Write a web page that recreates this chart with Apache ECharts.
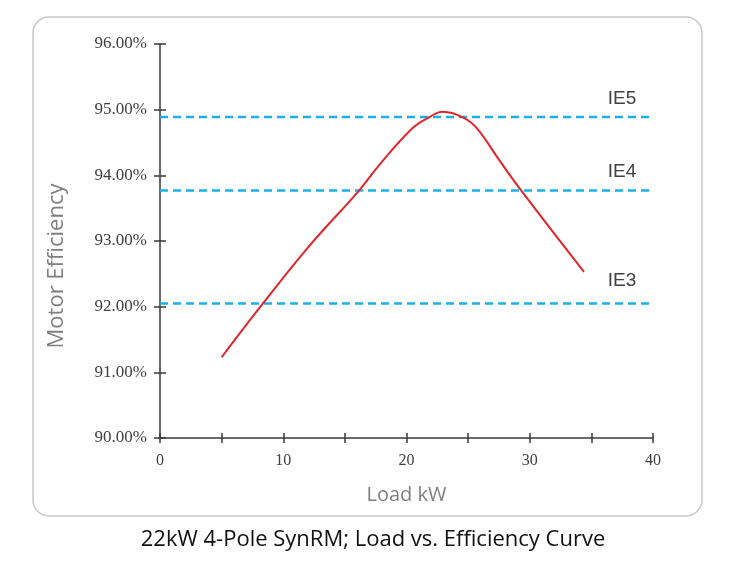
<!DOCTYPE html>
<html>
<head>
<meta charset="utf-8">
<script src="https://cdn.jsdelivr.net/npm/echarts@6/dist/echarts.min.js"></script>
<style>
  html, body { margin: 0; padding: 0; background: #fff; }
  #chart { width: 734px; height: 579px; }
</style>
</head>
<body>
<div id="chart"></div>
<script>
// load (kW) vs efficiency (%)
const loadKw = [5, 8.4, 12, 16.2, 17.8, 20.5, 21.9, 22.9, 24.6, 25.7, 27.5, 29.3, 34.4];
const efficiency = [91.23, 92.06, 92.9, 93.78, 94.16, 94.72, 94.89, 94.97, 94.88, 94.72, 94.24, 93.77, 92.53];

// IE class reference levels
const ieNames = ['IE5', 'IE4', 'IE3'];
const ieLevels = [94.89, 93.77, 92.05];

const xTicks = [0, 5, 10, 15, 20, 25, 30, 35, 40];
const yTicks = [90, 91, 92, 93, 94, 95, 96];

const axisColor = '#3a3a3a';
const serif = '"Liberation Serif", "DejaVu Serif", serif';
const sans = '"Open Sans", "Noto Sans", sans-serif';

let chart = echarts.init(document.getElementById('chart'));

let curveData = loadKw.map((x, i) => [x, efficiency[i]]);
let labelGaps = [9, 9, 13];

let ieSeries = ieLevels.map((lvl, i) => ({
    type: 'line',
    name: ieNames[i],
    data: [
        [xTicks[0], lvl],
        {
            value: [xTicks[xTicks.length - 1], lvl],
            label: {
                show: true,
                formatter: ieNames[i],
                position: 'top',
                distance: labelGaps[i],
                offset: [-31, 0],
                color: '#404040',
                fontSize: 19,
                fontFamily: '"Liberation Sans", Arial, sans-serif'
            }
        }
    ],
    symbol: 'circle',
    symbolSize: 0,
    lineStyle: {color: '#1db0e6', width: 2.5, type: [8, 5]},
    silent: true,
    z: 2
}));

let option = {
    animation: false,
    backgroundColor: '#fff',
    grid: {left: 160, right: 81, top: 44, bottom: 141, containLabel: false},
    xAxis: [
        {
            type: 'value',
            min: xTicks[0], max: xTicks[xTicks.length - 1], interval: 5,
            name: 'Load kW',
            nameLocation: 'middle',
            nameGap: 47,
            nameTextStyle: {color: '#7f7f7f', fontSize: 20, fontFamily: sans},
            axisLine: {show: true, onZero: false, lineStyle: {color: axisColor, width: 1.5}},
            axisTick: {show: true, length: 5, lineStyle: {color: axisColor, width: 1.5}},
            axisLabel: {
                margin: 15,
                color: '#404040',
                fontSize: 16,
                fontFamily: serif,
                formatter: v => (v % 10 === 0 ? String(v) : '')
            },
            splitLine: {show: false}
        },
        {
            // second copy only for the inner half of the ticks
            type: 'value',
            position: 'bottom',
            min: xTicks[0], max: xTicks[xTicks.length - 1], interval: 5,
            axisLine: {show: false},
            axisTick: {show: true, inside: true, length: 5, lineStyle: {color: axisColor, width: 1.5}},
            axisLabel: {show: false},
            splitLine: {show: false}
        }
    ],
    yAxis: [
        {
            type: 'value',
            min: yTicks[0], max: yTicks[yTicks.length - 1], interval: 1,
            axisLine: {show: true, lineStyle: {color: axisColor, width: 1.5}},
            axisTick: {show: true, length: 6, lineStyle: {color: axisColor, width: 1.5}},
            axisLabel: {
                margin: 13,
                color: '#404040',
                fontSize: 17,
                fontFamily: serif,
                formatter: v => v.toFixed(2) + '%'
            },
            splitLine: {show: false}
        },
        {
            type: 'value',
            position: 'left',
            offset: 0,
            min: yTicks[0], max: yTicks[yTicks.length - 1], interval: 1,
            axisLine: {show: false},
            axisTick: {show: true, inside: true, length: 6, lineStyle: {color: axisColor, width: 1.5}},
            axisLabel: {show: false},
            splitLine: {show: false}
        }
    ],
    graphic: [
        {
            type: 'rect',
            shape: {x: 33, y: 17, width: 669, height: 499, r: 16},
            style: {fill: 'none', stroke: '#c8c8c8', lineWidth: 1.5},
            z: -10
        },
        {
            type: 'text',
            x: 57, y: 266,
            rotation: Math.PI / 2,
            style: {
                text: 'Motor Efficiency',
                fill: '#7f7f7f',
                fontSize: 22,
                fontFamily: sans,
                align: 'center',
                verticalAlign: 'middle'
            }
        },
        {
            type: 'text',
            x: 373, y: 540,
            style: {
                text: '22kW 4-Pole SynRM; Load vs. Efficiency Curve',
                fill: '#111',
                fontSize: 22,
                fontFamily: sans,
                align: 'center',
                verticalAlign: 'middle'
            }
        }
    ],
    series: [
        ...ieSeries,
        {
            type: 'line',
            name: 'Efficiency',
            data: curveData,
            smooth: 0.4,
            showSymbol: false,
            lineStyle: {color: '#e0262c', width: 2},
            z: 3
        }
    ]
};

chart.setOption(option);
</script>
</body>
</html>
